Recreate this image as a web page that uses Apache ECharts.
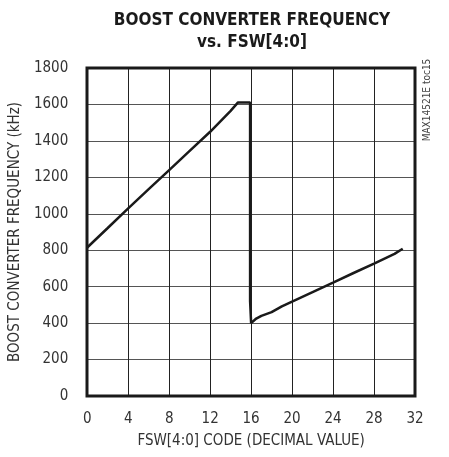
<!DOCTYPE html>
<html>
<head>
<meta charset="utf-8">
<script src="https://cdn.jsdelivr.net/npm/echarts@6/dist/echarts.min.js"></script>
<style>
  html, body { margin: 0; padding: 0; background: #fff; }
  #chart { width: 449px; height: 457px; }
</style>
</head>
<body>
<div id="chart"></div>
<script>
// FSW code vs boost frequency (kHz)
const fswCode = [0, 2, 4, 6, 8, 10, 12, 14, 14.7, 15.9, 15.9, 16, 16.5, 17, 18, 19, 20, 22, 24, 26, 28, 30, 30.8];
const freqKHz = [815, 922, 1030, 1135, 1240, 1345, 1450, 1565, 1610, 1610, 520, 400, 425, 440, 460, 492, 518, 570, 622, 675, 727, 780, 808];
const xTicks = [0, 4, 8, 12, 16, 20, 24, 28, 32];
const yTicks = [0, 200, 400, 600, 800, 1000, 1200, 1400, 1600, 1800];

const font = '"DejaVu Sans Condensed", "Liberation Sans Narrow", sans-serif';
const chart = echarts.init(document.getElementById('chart'));

const option = {
  animation: false,
  title: {
    text: 'BOOST CONVERTER FREQUENCY\nvs. FSW[4:0]',
    left: 247,
    top: 5,
    textAlign: 'center',
    textStyle: {
      fontFamily: font,
      fontWeight: 'bold',
      fontSize: 17,
      lineHeight: 22,
      color: '#1a1a1a'
    }
  },
  grid: { left: 87, right: 34, top: 68, bottom: 61 },
  xAxis: {
    type: 'value',
    min: 0,
    max: 32,
    interval: 4,
    name: 'FSW[4:0] CODE (DECIMAL VALUE)',
    nameLocation: 'middle',
    nameGap: 38,
    nameTextStyle: { fontFamily: font, fontSize: 15, color: '#333' },
    axisLine: { show: false },
    axisTick: { show: false },
    axisLabel: {
      margin: 16,
      fontFamily: font,
      fontSize: 15,
      color: '#333',
      formatter: v => xTicks.includes(v) ? String(v) : ''
    },
    splitLine: { show: true, lineStyle: { color: '#222', width: 1 } }
  },
  yAxis: {
    type: 'value',
    min: 0,
    max: 1800,
    interval: 200,
    name: 'BOOST CONVERTER FREQUENCY (kHz)',
    nameLocation: 'middle',
    nameGap: 56,
    nameTextStyle: { fontFamily: font, fontSize: 15, color: '#333' },
    axisLine: { show: false },
    axisTick: { show: false },
    axisLabel: {
      margin: 19,
      fontFamily: font,
      fontSize: 15,
      color: '#333',
      formatter: v => yTicks.includes(v) ? String(v) : ''
    },
    splitLine: { show: true, lineStyle: { color: '#555', width: 1 } }
  },
  series: [
    {
      type: 'line',
      data: fswCode.map((x, i) => [x, freqKHz[i]]),
      showSymbol: false,
      lineStyle: { color: '#1a1a1a', width: 2.5 },
      z: 5
    }
  ],
  graphic: [
    {
      type: 'rect',
      shape: { x: 87, y: 68, width: 328, height: 328 },
      style: { fill: 'none', stroke: '#1a1a1a', lineWidth: 3 },
      z: 10
    },
    {
      type: 'text',
      x: 427,
      y: 100,
      rotation: Math.PI / 2,
      style: {
        text: 'MAX14521E toc15',
        fontFamily: font,
        fontSize: 10,
        fill: '#444',
        align: 'center',
        verticalAlign: 'middle'
      }
    }
  ]
};

chart.setOption(option);
window.addEventListener('resize', () => chart.resize());
</script>
</body>
</html>
